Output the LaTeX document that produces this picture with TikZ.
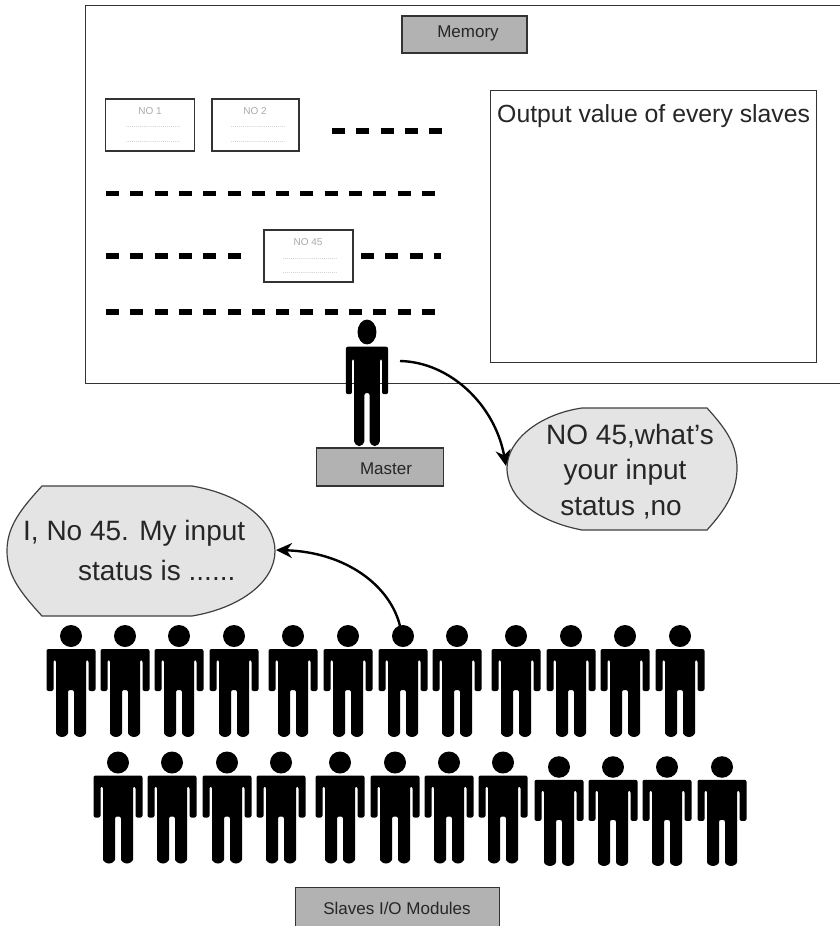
\documentclass[tikz,border=0pt]{standalone}
\usepackage{fontspec}
\setmainfont{Liberation Sans}
\usetikzlibrary{arrows.meta}
\definecolor{boxcolor}{RGB}{178,178,178}
\definecolor{bubblecolor}{RGB}{228,228,228}
\definecolor{cardcolor}{RGB}{170,170,170}
\tikzstyle{arrow} = [line width=2.4pt,-{Stealth[length=16pt,width=15pt]}]
\tikzstyle{frame} = [draw=black!80, line width=1.2pt, fill=white]
\tikzstyle{label} = [rectangle, draw=black!80, line width=1.2pt, fill=boxcolor, inner sep=0pt]
\tikzstyle{labeltext} = [inner sep=0pt, text=black!85, font=\fontsize{17}{20}\selectfont]
\tikzstyle{card} = [rectangle, draw=black!80, line width=1.4pt, fill=white, inner sep=0pt]
\tikzstyle{cardtext} = [text=cardcolor, inner sep=0pt, font=\fontsize{10}{11}\selectfont]
\tikzstyle{carddots} = [text=cardcolor, inner sep=0pt, font=\fontsize{7}{8}\selectfont]
\tikzstyle{bubble} = [draw=black!75, line width=1.2pt, fill=bubblecolor]
\tikzstyle{bubbletext} = [inner sep=0pt, text=black!85, font=\fontsize{28}{32}\selectfont]
\tikzstyle{dashrow} = [line width=5.5pt, black, dash pattern=on 13pt off 11.3pt]
\tikzset{person/.pic={
  \fill (0,0) circle[radius=11];
  \fill[rounded corners=2pt] (-24.5,13) -- (24.5,13) -- (24.5,55) -- (17.5,55) -- (17.5,24) -- (15,24) -- (15,55)
    -- (15,95) arc[start angle=0,end angle=180,radius=6] -- (3,54) -- (-3,54) -- (-3,95)
    arc[start angle=0,end angle=180,radius=6] -- (-15,24) -- (-17.5,24) -- (-17.5,55) -- (-24.5,55) -- cycle;
}}
\begin{document}
\begin{tikzpicture}[x=1pt, y=-1pt]
\useasboundingbox (0,0) rectangle (839,926);

% Memory frame
\node[frame, minimum width=770pt, minimum height=378pt, inner sep=0pt, anchor=north west] (memory) at (85,5) {};
\node[label, minimum width=125pt, minimum height=37pt] (memlabel) at (464.5,34.5) {};
\node[labeltext] (memtext) at (468,33.5) {Memory};
\node[frame, minimum width=326.5pt, minimum height=272pt, inner sep=0pt, anchor=north west] (output) at (489.5,89.5) {};
\node[anchor=north west, inner sep=0pt, text=black!85, font=\fontsize{24.8}{30}\selectfont] (outtext) at (497,104) {Output value of every slaves};

% Slave records
\node[card, minimum width=89pt, minimum height=52pt] (no1) at (150.2,125) {};
\node[card, minimum width=87pt, minimum height=52pt] (no2) at (255.5,125) {};
\node[card, minimum width=89pt, minimum height=52pt] (no45) at (308.5,256) {};
\node[cardtext] (no1t) at (150,111) {NO 1};
\node[cardtext] (no2t) at (255,111) {NO 2};
\node[cardtext] (no45t) at (308,242) {NO 45};
\foreach \cx/\cy/\cname in {153/127/a, 153/142/b, 258/127/c, 258/142/d, 310/259/e, 310/273/f}
  \node[carddots] (dots\cname) at (\cx,\cy) {............................};

% Dashed rows
\draw[dashrow] (332,131) -- (443,131);
\draw[dashrow] (106,193.5) -- (436,193.5);
\draw[dashrow] (106,256) -- (241,256);
\draw[dashrow] (361,256) -- (441,256);
\draw[dashrow] (106,312) -- (436,312);

% Master
\pic[xscale=0.86, yscale=1.13] at (367,332) {person};
\node[label, minimum width=127pt, minimum height=38pt] (master) at (380,467) {};
\node[labeltext] (mastertext) at (386,469) {Master};
\coordinate (masterhand) at (400,361);

% Speech bubbles
\draw[bubble] (582,408) -- (707,408) .. controls (727,430) and (737,445) .. (737,468)
  .. controls (737,490) and (727,508) .. (707,530) -- (582,530)
  .. controls (540,522) and (507,500) .. (507,468) .. controls (507,440) and (540,414) .. (582,408) -- cycle;
\coordinate (ask) at (506,466);
\node[bubbletext] (asktext1) at (630,436) {NO 45,what's};
\node[bubbletext] (asktext2) at (625,472) {your input};
\node[bubbletext] (asktext3) at (621,508) {status ,no};

\draw[bubble] (42,486) -- (192,486) .. controls (240,494) and (275,520) .. (275,551)
  .. controls (275,582) and (240,608) .. (192,616) -- (42,616)
  .. controls (20,592) and (7,575) .. (7,551) .. controls (7,527) and (20,510) .. (42,486) -- cycle;
\coordinate (reply) at (276,550);
\node[bubbletext, anchor=west] (replytext1) at (23,533) {I, No 45. My input};
\node[bubbletext, anchor=west] (replytext2) at (78,570) {status is ......};

% Slaves
\foreach \sx in {71,125,179,234,293,348,403,457,516,571,625,680}
  \pic at (\sx,636) {person};
\foreach \sx in {118,172,227,281,340,395,449,503}
  \pic at (\sx,762.5) {person};
\foreach \sx in {559,613,667,722}
  \pic[yscale=0.98] at (\sx,767) {person};
\coordinate (slavehead) at (400,626);
\node[label, minimum width=204pt, minimum height=45pt, anchor=north west] (slaves) at (295,887) {};
\node[labeltext] (slavestext) at (397,908) {Slaves I/O Modules};

% Arrows
\draw[arrow] (masterhand) .. controls (450,362) and (495,405) .. (ask);
\draw[arrow] (slavehead) .. controls (390,585) and (345,552) .. (reply);

\end{tikzpicture}
\end{document}
